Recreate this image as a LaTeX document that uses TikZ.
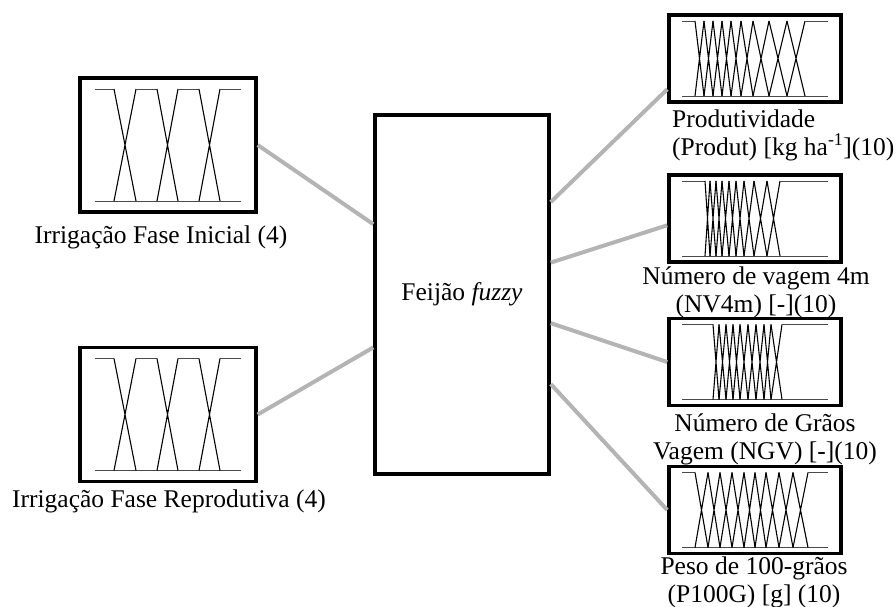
\documentclass[tikz,border=0pt]{standalone}
\usepackage{fontspec}
\setmainfont{Liberation Serif}
\usetikzlibrary{calc}
\definecolor{linkgray}{HTML}{B4B4B4}
\definecolor{basegray}{HTML}{4A4A4A}

% membership functions inside a box: #1 box, #2 half height, #3 crossings a/b
\newcommand{\mfcurves}[3]{%
  \begin{scope}[shift={(#1.center)}]
    \draw[mfbase] (-73,#2) -- (73,#2);
    \xdef\mfprev{-73}
    \foreach \a/\b in {#3} {
      \draw[mfbase] (\mfprev,-#2) -- (\a,-#2);
      \draw[mfline] (\a,-#2) -- (\b,#2) (\a,#2) -- (\b,-#2);
      \xdef\mfprev{\b}
    }
    \draw[mfbase] (\mfprev,-#2) -- (73,-#2);
  \end{scope}}

\begin{document}
\begin{tikzpicture}[x=1pt, y=-1pt,
    font=\fontsize{25.5}{28}\selectfont,
    mfbox/.style={draw, line width=3.5pt, minimum width=176pt, minimum height=134pt, inner sep=0pt, fill=white},
    outbox/.style={mfbox, minimum width=172pt, minimum height=87pt},
    fisbox/.style={mfbox, minimum width=174pt, minimum height=359pt},
    link/.style={draw=linkgray, line width=4pt},
    mfline/.style={line width=1.1pt},
    mfbase/.style={basegray, line width=1pt},
    lbl/.style={inner sep=0pt, anchor=base}]
  \useasboundingbox (0,0) rectangle (896,606);
  % inputs
  \node[mfbox] (ifi) at (168,145) {};
  \node[mfbox] (ifr) at (168,414.5) {};
  % system
  \node[fisbox] (fz) at (462,294.5) {Feijão \textit{fuzzy}};
  % outputs
  \node[outbox] (prod) at (755,58.5) {};
  \node[outbox] (nv4m) at (755,218.5) {};
  \node[outbox] (ngv) at (755,362) {};
  \node[outbox] (p100g) at (755,510) {};

  \mfcurves{ifi}{56}{-54/-32, -11/10, 31/52}
  \mfcurves{ifr}{56}{-54/-32, -11/10, 31/52}
  \mfcurves{prod}{37.5}{-60/-51, -51/-42, -42/-33, -33/-24, -24/-14, -14/-2, -2/14, 14/32, 32/50}
  \mfcurves{nv4m}{37.5}{-50/-45, -45/-39, -39/-33, -33/-26, -26/-19, -19/-11, -11/-1, -1/12, 12/25}
  \mfcurves{ngv}{37.5}{-42/-36, -36/-29, -29/-22, -22/-15, -15/-7, -7/1, 1/9, 9/16, 16/27}
  \mfcurves{p100g}{37.5}{-60/-47, -47/-35, -35/-23, -23/-11, -11/0, 0/11, 11/24, 24/38, 38/53}

  % labels (base = last line)
  \node[lbl] (ifi-l) at (161,243) {Irrigação Fase Inicial (4)};
  \node[lbl] (ifr-l) at (169,507) {Irrigação Fase Reprodutiva (4)};
  \node[lbl, anchor=base west, align=left] (prod-l) at (672,155) {Produtividade\\(Produt) [kg ha\textsuperscript{-1}](10)};
  \node[lbl, align=center] (nv4m-l) at (756,312) {Número de vagem 4m\\(NV4m) [-](10)};
  \node[lbl, align=center] (ngv-l) at (765,459) {Número de Grãos\\Vagem (NGV) [-](10)};
  \node[lbl, align=center] (p100g-l) at (754,602) {Peso de 100-grãos\\(P100G) [g] (10)};

  \draw[link] (ifi.east) -- ($(fz.north west)!0.306!(fz.south west)$);
  \draw[link] (ifr.east) -- ($(fz.north west)!0.646!(fz.south west)$);
  \draw[link] ($(fz.north east)!0.245!(fz.south east)$) -- ($(prod.north west)!0.84!(prod.south west)$);
  \draw[link] ($(fz.north east)!0.412!(fz.south east)$) -- ($(nv4m.north west)!0.575!(nv4m.south west)$);
  \draw[link] ($(fz.north east)!0.579!(fz.south east)$) -- (ngv.west);
  \draw[link] ($(fz.north east)!0.747!(fz.south east)$) -- (p100g.west);
\end{tikzpicture}
\end{document}
